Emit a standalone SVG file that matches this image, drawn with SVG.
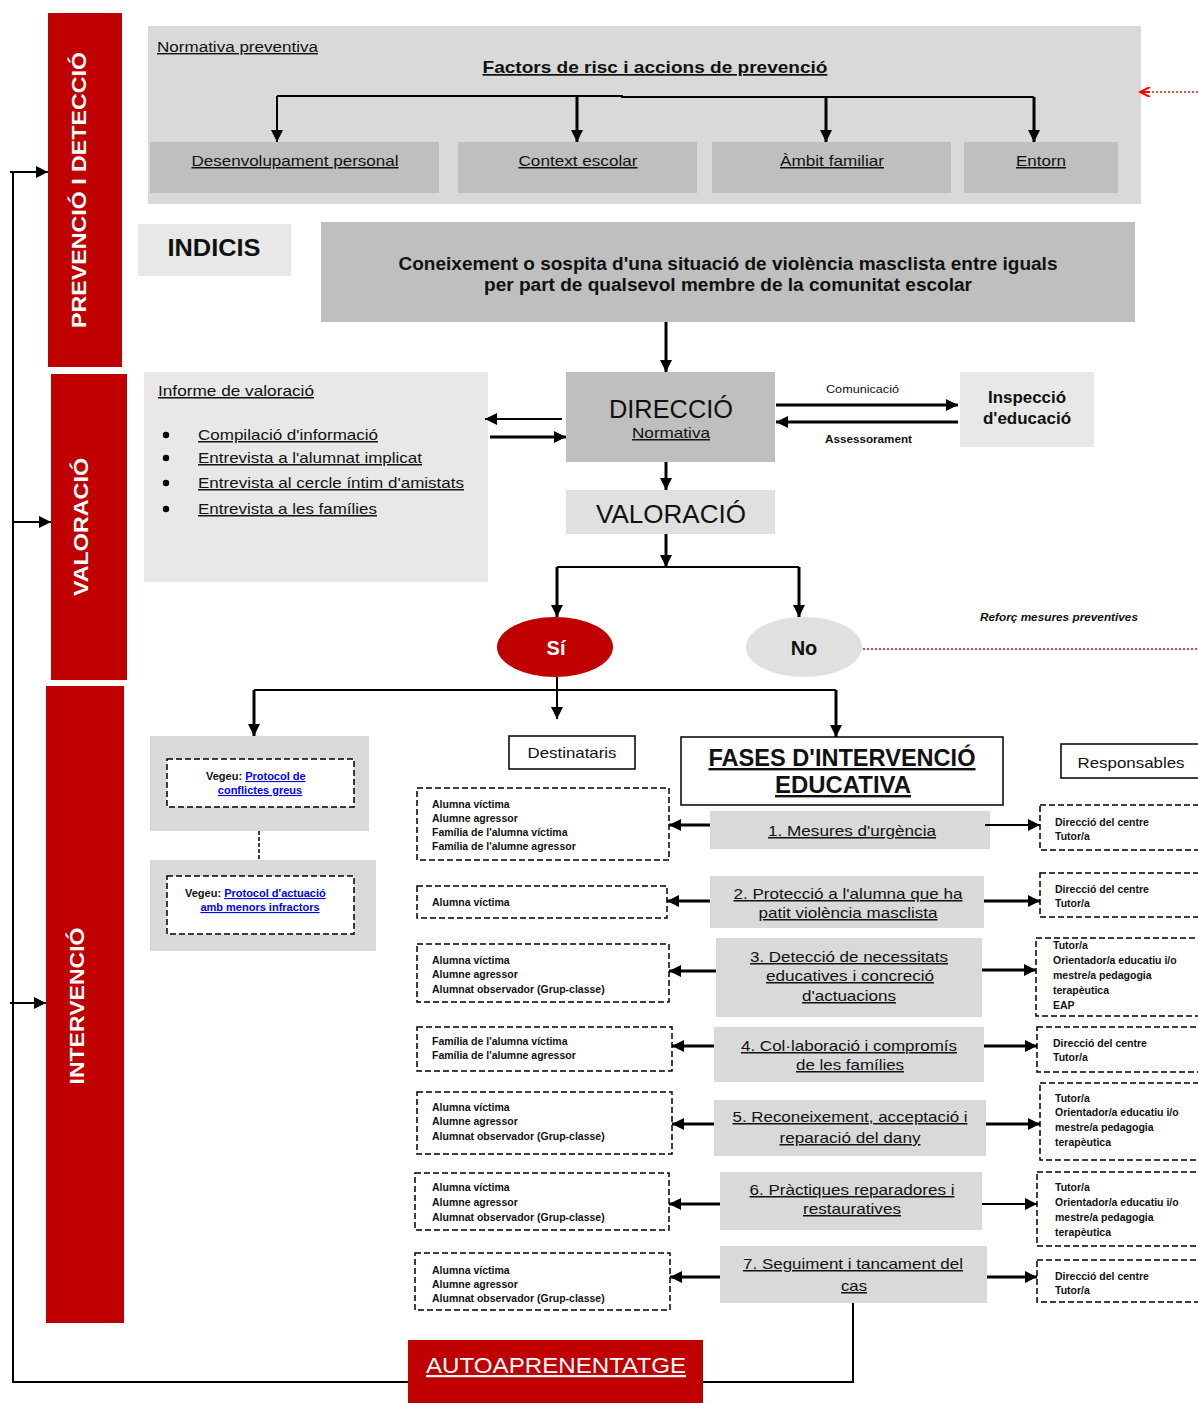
<svg xmlns="http://www.w3.org/2000/svg" width="1198" height="1403" viewBox="0 0 1198 1403">
<defs>
<marker id="ah" viewBox="0 0 10 10" refX="10" refY="5" markerWidth="12" markerHeight="12" markerUnits="userSpaceOnUse" orient="auto"><path d="M0,0 L10,5 L0,10 z" fill="#000"/></marker>
<marker id="ahr" viewBox="0 0 10 10" refX="10" refY="5" markerWidth="14" markerHeight="10" markerUnits="userSpaceOnUse" orient="auto"><path d="M0,0 L10,5 L0,10" fill="none" stroke="#f00" stroke-width="2"/></marker>
</defs>
<style>
text{font-family:"Liberation Sans Narrow","Liberation Sans",Arial,sans-serif;fill:#111}
.u{text-decoration:underline}
.b{font-weight:bold}
.c{text-anchor:middle}
.red{fill:#c00000}
.wt{fill:#fff;font-weight:bold}
.g1{fill:#d9d9d9}
.g2{fill:#bfbfbf}
.g3{fill:#e8e8e8}
.ln{stroke:#000;stroke-width:2;fill:none}
.lt{stroke:#000;stroke-width:3;fill:none}
.dash{fill:#fff;stroke:#000;stroke-width:1.5;stroke-dasharray:6,3}
.box{fill:#fff;stroke:#000;stroke-width:1.5}
.sm{font-size:10.5px;font-weight:bold}
.lk{fill:#00f;text-decoration:underline}
</style>
<rect width="1198" height="1403" fill="#fff"/>

<g id="bar-prevencio">
<rect class="red" x="48" y="13" width="74" height="354"/>
<text class="wt c" transform="translate(86,190) rotate(-90)" font-size="20" textLength="276" lengthAdjust="spacingAndGlyphs">PREVENCIÓ I DETECCIÓ</text>
</g>
<g id="bar-valoracio">
<rect class="red" x="51" y="374" width="76" height="306"/>
<text class="wt c" transform="translate(88,527) rotate(-90)" font-size="20" textLength="138" lengthAdjust="spacingAndGlyphs">VALORACIÓ</text>
</g>
<g id="bar-intervencio">
<rect class="red" x="46" y="686" width="78" height="637"/>
<text class="wt c" transform="translate(84,1006) rotate(-90)" font-size="20" textLength="157" lengthAdjust="spacingAndGlyphs">INTERVENCIÓ</text>
</g>

<g id="panel-prevencio">
<rect class="g1" x="148" y="26" width="993" height="178"/>
<text class="u" x="157" y="52" font-size="14" textLength="161" lengthAdjust="spacingAndGlyphs">Normativa preventiva</text>
<text class="u b c" x="655" y="73" font-size="17" textLength="345" lengthAdjust="spacingAndGlyphs">Factors de risc i accions de prevenció</text>
</g>
<g id="n-desenvolupament"><rect class="g2" x="150" y="142" width="289" height="51"/><text class="u c" x="295" y="166" font-size="15" textLength="207" lengthAdjust="spacingAndGlyphs">Desenvolupament personal</text></g>
<g id="n-context"><rect class="g2" x="458" y="142" width="239" height="51"/><text class="u c" x="578" y="166" font-size="15" textLength="119" lengthAdjust="spacingAndGlyphs">Context escolar</text></g>
<g id="n-ambit"><rect class="g2" x="712" y="142" width="239" height="51"/><text class="u c" x="832" y="166" font-size="15" textLength="104" lengthAdjust="spacingAndGlyphs">Àmbit familiar</text></g>
<g id="n-entorn"><rect class="g2" x="964" y="142" width="154" height="51"/><text class="u c" x="1041" y="166" font-size="15" textLength="50" lengthAdjust="spacingAndGlyphs">Entorn</text></g>

<g id="n-indicis"><rect class="g3" x="138" y="224" width="153" height="52"/><text class="b c" x="214" y="256" font-size="24" textLength="93" lengthAdjust="spacingAndGlyphs">INDICIS</text></g>
<g id="n-coneixement"><rect class="g2" x="321" y="222" width="814" height="100"/>
<text class="b c" x="728" y="270" font-size="18" textLength="659" lengthAdjust="spacingAndGlyphs">Coneixement o sospita d'una situació de violència masclista entre iguals</text>
<text class="b c" x="728" y="291" font-size="18" textLength="488" lengthAdjust="spacingAndGlyphs">per part de qualsevol membre de la comunitat escolar</text></g>

<g id="n-informe"><rect class="g3" x="144" y="372" width="344" height="210"/>
<text class="u" x="158" y="396" font-size="15" textLength="156" lengthAdjust="spacingAndGlyphs">Informe de valoració</text>
<circle cx="166" cy="435" r="3.2" fill="#000"/><circle cx="166" cy="458" r="3.2" fill="#000"/><circle cx="166" cy="483" r="3.2" fill="#000"/><circle cx="166" cy="509" r="3.2" fill="#000"/>
<text class="u" x="198" y="440" font-size="15" textLength="180" lengthAdjust="spacingAndGlyphs">Compilació d'informació</text>
<text class="u" x="198" y="463" font-size="15" textLength="224" lengthAdjust="spacingAndGlyphs">Entrevista a l'alumnat implicat</text>
<text class="u" x="198" y="488" font-size="15" textLength="266" lengthAdjust="spacingAndGlyphs">Entrevista al cercle íntim d'amistats</text>
<text class="u" x="198" y="514" font-size="15" textLength="179" lengthAdjust="spacingAndGlyphs">Entrevista a les famílies</text></g>

<g id="n-direccio"><rect class="g2" x="566" y="372" width="209" height="90"/>
<text class="c" x="671" y="418" font-size="26" textLength="124" lengthAdjust="spacingAndGlyphs">DIRECCIÓ</text>
<text class="u c" x="671" y="438" font-size="15" textLength="78" lengthAdjust="spacingAndGlyphs">Normativa</text></g>
<g id="n-inspeccio"><rect class="g3" x="960" y="372" width="134" height="75"/>
<text class="b c" x="1027" y="403" font-size="16" textLength="78" lengthAdjust="spacingAndGlyphs">Inspecció</text>
<text class="b c" x="1027" y="424" font-size="16" textLength="88" lengthAdjust="spacingAndGlyphs">d'educació</text></g>
<g id="n-valoracio"><rect fill="#e0e0e0" x="566" y="490" width="209" height="44"/>
<text class="c" x="671" y="523" font-size="26" textLength="150" lengthAdjust="spacingAndGlyphs">VALORACIÓ</text></g>

<g id="n-si"><ellipse cx="555" cy="647" rx="58" ry="30" fill="#c00000"/><text class="wt c" x="556" y="655" font-size="20">Sí</text></g>
<g id="n-no"><ellipse cx="804" cy="647" rx="58" ry="30" fill="#e0e0e0"/><text class="b c" x="804" y="655" font-size="20">No</text></g>

<g id="n-protocol-conflictes"><rect class="g1" x="150" y="736" width="219" height="95"/><rect class="dash" x="167" y="759" width="187" height="48"/>
<text x="206" y="780" font-size="11" font-weight="bold">Vegeu: <tspan class="lk">Protocol de</tspan></text>
<text class="lk c" x="260" y="794" font-size="11" font-weight="bold">conflictes greus</text></g>
<g id="n-protocol-menors"><rect class="g1" x="150" y="860" width="226" height="91"/><rect class="dash" x="167" y="876" width="187" height="58"/>
<text x="185" y="897" font-size="11" font-weight="bold">Vegeu: <tspan class="lk">Protocol d'actuació</tspan></text>
<text class="lk c" x="260" y="911" font-size="11" font-weight="bold">amb menors infractors</text></g>

<g id="n-destinataris"><rect class="box" x="509" y="736" width="126" height="33"/><text class="c" x="572" y="758" font-size="15" textLength="89" lengthAdjust="spacingAndGlyphs">Destinataris</text></g>
<g id="n-fases"><rect class="box" x="681" y="737" width="322" height="68"/>
<text class="u b c" x="842" y="766" font-size="24" textLength="267" lengthAdjust="spacingAndGlyphs">FASES D'INTERVENCIÓ</text>
<text class="u b c" x="843" y="793" font-size="24" textLength="136" lengthAdjust="spacingAndGlyphs">EDUCATIVA</text></g>
<g id="n-responsables"><rect class="box" x="1061" y="744" width="145" height="34"/><text class="c" x="1131" y="768" font-size="15" textLength="107" lengthAdjust="spacingAndGlyphs">Responsables</text></g>

<g id="f1"><rect class="g1" x="710" y="811" width="280" height="38"/><text class="u c" x="852" y="836" font-size="15" textLength="168" lengthAdjust="spacingAndGlyphs">1. Mesures d'urgència</text></g>
<g id="d1"><rect class="dash" x="417" y="788" width="252" height="72"/>
<text class="sm" x="432" y="808">Alumna víctima</text><text class="sm" x="432" y="822">Alumne agressor</text><text class="sm" x="432" y="836">Família de l'alumna víctima</text><text class="sm" x="432" y="850">Família de l'alumne agressor</text></g>
<g id="r1"><rect class="dash" x="1040" y="805" width="170" height="45"/><text class="sm" x="1055" y="826">Direcció del centre</text><text class="sm" x="1055" y="840">Tutor/a</text></g>

<g id="f2"><rect class="g1" x="710" y="876" width="274" height="52"/><text class="u c" x="848" y="899" font-size="15" textLength="229" lengthAdjust="spacingAndGlyphs">2. Protecció a l'alumna que ha</text><text class="u c" x="848" y="918" font-size="15" textLength="179" lengthAdjust="spacingAndGlyphs">patit violència masclista</text></g>
<g id="d2"><rect class="dash" x="417" y="886" width="250" height="32"/><text class="sm" x="432" y="906">Alumna víctima</text></g>
<g id="r2"><rect class="dash" x="1040" y="873" width="170" height="44"/><text class="sm" x="1055" y="893">Direcció del centre</text><text class="sm" x="1055" y="907">Tutor/a</text></g>

<g id="f3"><rect class="g1" x="716" y="938" width="266" height="79"/><text class="u c" x="849" y="962" font-size="15" textLength="198" lengthAdjust="spacingAndGlyphs">3. Detecció de necessitats</text><text class="u c" x="850" y="981" font-size="15" textLength="168" lengthAdjust="spacingAndGlyphs">educatives i concreció</text><text class="u c" x="849" y="1001" font-size="15" textLength="94" lengthAdjust="spacingAndGlyphs">d'actuacions</text></g>
<g id="d3"><rect class="dash" x="417" y="944" width="252" height="58"/><text class="sm" x="432" y="964">Alumna víctima</text><text class="sm" x="432" y="978">Alumne agressor</text><text class="sm" x="432" y="993">Alumnat observador (Grup-classe)</text></g>
<g id="r3"><rect class="dash" x="1036" y="938" width="174" height="78"/><text class="sm" x="1053" y="949">Tutor/a</text><text class="sm" x="1053" y="964">Orientador/a educatiu i/o</text><text class="sm" x="1053" y="979">mestre/a pedagogia</text><text class="sm" x="1053" y="994">terapèutica</text><text class="sm" x="1053" y="1009">EAP</text></g>

<g id="f4"><rect class="g1" x="714" y="1027" width="270" height="55"/><text class="u c" x="849" y="1051" font-size="15" textLength="216" lengthAdjust="spacingAndGlyphs">4. Col·laboració i compromís</text><text class="u c" x="850" y="1070" font-size="15" textLength="108" lengthAdjust="spacingAndGlyphs">de les famílies</text></g>
<g id="d4"><rect class="dash" x="417" y="1027" width="255" height="44"/><text class="sm" x="432" y="1045">Família de l'alumna víctima</text><text class="sm" x="432" y="1059">Família de l'alumne agressor</text></g>
<g id="r4"><rect class="dash" x="1037" y="1027" width="173" height="45"/><text class="sm" x="1053" y="1047">Direcció del centre</text><text class="sm" x="1053" y="1061">Tutor/a</text></g>

<g id="f5"><rect class="g1" x="714" y="1100" width="272" height="56"/><text class="u c" x="850" y="1122" font-size="15" textLength="235" lengthAdjust="spacingAndGlyphs">5. Reconeixement, acceptació i</text><text class="u c" x="850" y="1143" font-size="15" textLength="141" lengthAdjust="spacingAndGlyphs">reparació del dany</text></g>
<g id="d5"><rect class="dash" x="417" y="1092" width="255" height="62"/><text class="sm" x="432" y="1111">Alumna víctima</text><text class="sm" x="432" y="1125">Alumne agressor</text><text class="sm" x="432" y="1140">Alumnat observador (Grup-classe)</text></g>
<g id="r5"><rect class="dash" x="1040" y="1083" width="170" height="77"/><text class="sm" x="1055" y="1102">Tutor/a</text><text class="sm" x="1055" y="1116">Orientador/a educatiu i/o</text><text class="sm" x="1055" y="1131">mestre/a pedagogia</text><text class="sm" x="1055" y="1146">terapèutica</text></g>

<g id="f6"><rect class="g1" x="720" y="1172" width="262" height="58"/><text class="u c" x="852" y="1195" font-size="15" textLength="205" lengthAdjust="spacingAndGlyphs">6. Pràctiques reparadores i</text><text class="u c" x="852" y="1214" font-size="15" textLength="98" lengthAdjust="spacingAndGlyphs">restauratives</text></g>
<g id="d6"><rect class="dash" x="415" y="1173" width="254" height="57"/><text class="sm" x="432" y="1191">Alumna víctima</text><text class="sm" x="432" y="1206">Alumne agressor</text><text class="sm" x="432" y="1221">Alumnat observador (Grup-classe)</text></g>
<g id="r6"><rect class="dash" x="1037" y="1172" width="173" height="74"/><text class="sm" x="1055" y="1191">Tutor/a</text><text class="sm" x="1055" y="1206">Orientador/a educatiu i/o</text><text class="sm" x="1055" y="1221">mestre/a pedagogia</text><text class="sm" x="1055" y="1236">terapèutica</text></g>

<g id="f7"><rect class="g1" x="720" y="1246" width="267" height="57"/><text class="u c" x="853" y="1269" font-size="15" textLength="220" lengthAdjust="spacingAndGlyphs">7. Seguiment i tancament del</text><text class="u c" x="854" y="1291" font-size="15" textLength="26" lengthAdjust="spacingAndGlyphs">cas</text></g>
<g id="d7"><rect class="dash" x="415" y="1253" width="255" height="57"/><text class="sm" x="432" y="1274">Alumna víctima</text><text class="sm" x="432" y="1288">Alumne agressor</text><text class="sm" x="432" y="1302">Alumnat observador (Grup-classe)</text></g>
<g id="r7"><rect class="dash" x="1037" y="1260" width="173" height="42"/><text class="sm" x="1055" y="1280">Direcció del centre</text><text class="sm" x="1055" y="1294">Tutor/a</text></g>

<g id="n-autoaprenentatge"><rect class="red" x="408" y="1340" width="295" height="63"/><text class="u c" x="556" y="1373" font-size="22" fill="#fff" style="fill:#fff" textLength="260" lengthAdjust="spacingAndGlyphs">AUTOAPRENENTATGE</text></g>

<g id="connectors">
<path class="ln" d="M277,96 H622 V97 H1034"/>
<line class="ln" x1="277" y1="96" x2="277" y2="142" marker-end="url(#ah)"/>
<line class="lt" x1="577" y1="96" x2="577" y2="142" marker-end="url(#ah)"/>
<line class="lt" x1="826" y1="97" x2="826" y2="142" marker-end="url(#ah)"/>
<line class="lt" x1="1034" y1="97" x2="1034" y2="142" marker-end="url(#ah)"/>
<line x1="1198" y1="92" x2="1140" y2="92" stroke="#f00" stroke-width="1.5" stroke-dasharray="2,2" marker-end="url(#ahr)"/>
<line x1="1150" y1="92" x2="1140" y2="92" stroke="#f00" stroke-width="2"/>
<line class="lt" x1="666" y1="322" x2="666" y2="372" marker-end="url(#ah)"/>
<line class="ln" x1="562" y1="419" x2="485" y2="419" marker-end="url(#ah)"/>
<line class="lt" x1="490" y1="437" x2="566" y2="437" marker-end="url(#ah)"/>
<line class="lt" x1="776" y1="405" x2="958" y2="405" marker-end="url(#ah)"/>
<line class="lt" x1="958" y1="422" x2="776" y2="422" marker-end="url(#ah)"/>
<text x="826" y="393" font-size="11" textLength="73" lengthAdjust="spacingAndGlyphs">Comunicació</text>
<text x="825" y="443" font-size="11" font-weight="bold" textLength="87" lengthAdjust="spacingAndGlyphs">Assessorament</text>
<line class="lt" x1="666" y1="462" x2="666" y2="490" marker-end="url(#ah)"/>
<line class="lt" x1="666" y1="534" x2="666" y2="567" marker-end="url(#ah)"/>
<path class="ln" d="M557,567 H799"/>
<line class="lt" x1="557" y1="567" x2="557" y2="617" marker-end="url(#ah)"/>
<line class="lt" x1="799" y1="567" x2="799" y2="617" marker-end="url(#ah)"/>
<line x1="863" y1="649" x2="1198" y2="649" stroke="#e00" stroke-width="1.5" stroke-dasharray="2,2"/>
<text x="980" y="621" font-size="11" font-style="italic" font-weight="bold" textLength="158" lengthAdjust="spacingAndGlyphs">Reforç mesures preventives</text>
<line class="ln" x1="557" y1="677" x2="557" y2="719" marker-end="url(#ah)"/>
<path class="ln" d="M254,690 H836"/>
<line class="lt" x1="254" y1="690" x2="254" y2="736" marker-end="url(#ah)"/>
<line class="lt" x1="836" y1="690" x2="836" y2="737" marker-end="url(#ah)"/>
<line x1="259" y1="831" x2="259" y2="860" stroke="#000" stroke-width="1.5" stroke-dasharray="4,2"/>
<line class="lt" x1="710" y1="825" x2="669" y2="825" marker-end="url(#ah)"/>
<line class="ln" x1="985" y1="825" x2="1040" y2="825" marker-end="url(#ah)"/>
<line class="lt" x1="710" y1="901" x2="667" y2="901" marker-end="url(#ah)"/>
<line class="lt" x1="984" y1="901" x2="1040" y2="901" marker-end="url(#ah)"/>
<line class="lt" x1="716" y1="971" x2="669" y2="971" marker-end="url(#ah)"/>
<line class="lt" x1="982" y1="970" x2="1036" y2="970" marker-end="url(#ah)"/>
<line class="lt" x1="714" y1="1046" x2="672" y2="1046" marker-end="url(#ah)"/>
<line class="lt" x1="984" y1="1046" x2="1037" y2="1046" marker-end="url(#ah)"/>
<line class="lt" x1="714" y1="1124" x2="672" y2="1124" marker-end="url(#ah)"/>
<line class="lt" x1="986" y1="1124" x2="1040" y2="1124" marker-end="url(#ah)"/>
<line class="lt" x1="720" y1="1204" x2="669" y2="1204" marker-end="url(#ah)"/>
<line class="ln" x1="982" y1="1204" x2="1037" y2="1204" marker-end="url(#ah)"/>
<line class="lt" x1="720" y1="1277" x2="670" y2="1277" marker-end="url(#ah)"/>
<line class="lt" x1="987" y1="1277" x2="1037" y2="1277" marker-end="url(#ah)"/>
<path class="ln" d="M853,1303 V1382 H703"/>
<path class="ln" d="M408,1382 H13 V172"/>
<line class="ln" x1="10" y1="172" x2="48" y2="172" marker-end="url(#ah)"/>
<line class="ln" x1="13" y1="522" x2="51" y2="522" marker-end="url(#ah)"/>
<line class="ln" x1="10" y1="1003" x2="46" y2="1003" marker-end="url(#ah)"/>
</g>
</svg>
